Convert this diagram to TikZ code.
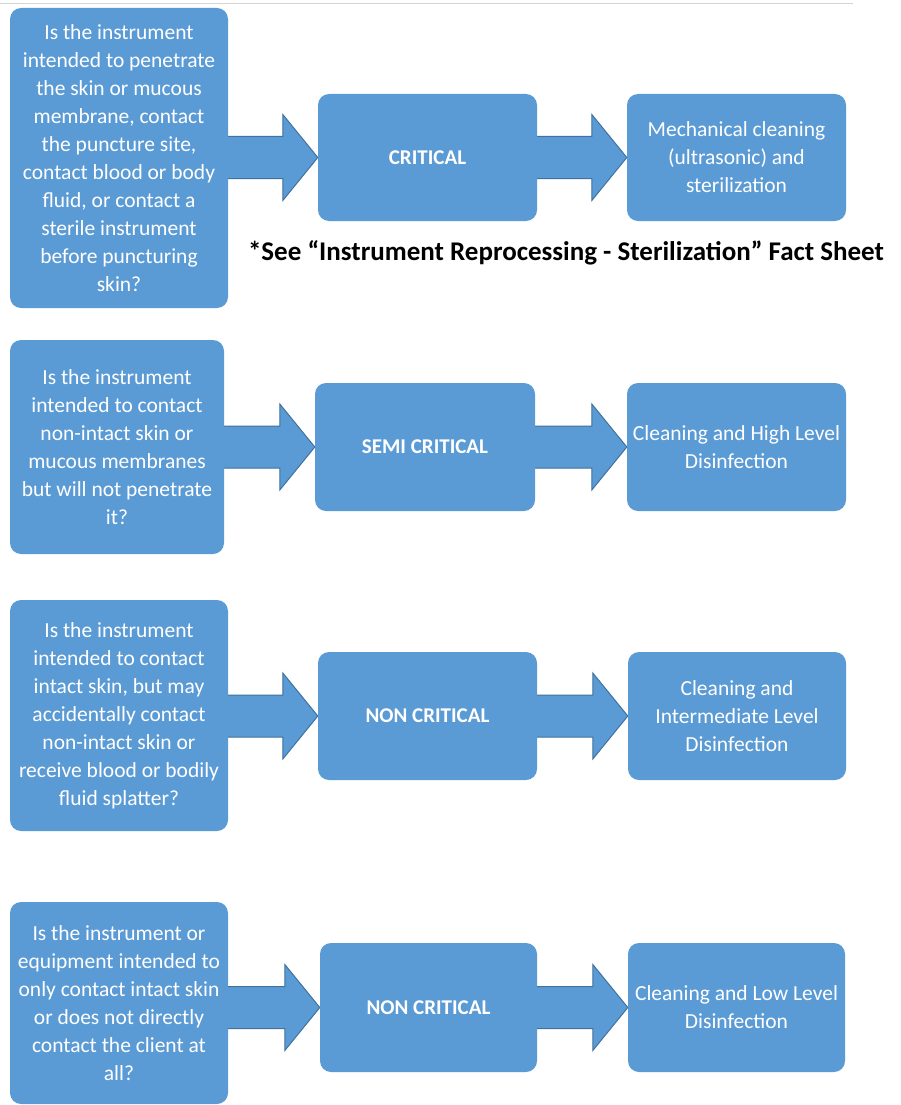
\documentclass[tikz,border=0pt]{standalone}
\usepackage{fontspec}
\setmainfont{Carlito}
\usetikzlibrary{calc}
\definecolor{boxblue}{HTML}{5B9BD5}
\definecolor{arrowedge}{HTML}{41719C}
\definecolor{rulegray}{HTML}{D4D4D4}
\pgfdeclarelayer{bg}
\pgfsetlayers{bg,main}
\tikzset{
  flowbox/.style={fill=boxblue, draw=none, rounded corners=11pt, inner sep=0pt,
    align=center, text=white, font=\fontsize{21.5}{28}\selectfont},
  levelbox/.style={flowbox, font=\fontsize{21}{28}\selectfont\bfseries},
  blockarrow/.style={fill=boxblue, draw=arrowedge, line width=1pt, line join=miter},
  notetext/.style={inner sep=0pt, text=black, font=\fontsize{27}{30}\selectfont\bfseries}
}
\newcommand\blockarr[2]{%
  \begin{pgfonlayer}{bg}
  \path[blockarrow] let \p1=(#1.east), \p2=(#2.west) in
    (\x1-1pt,\y2+21pt) -- (\x2-35pt,\y2+21pt) -- (\x2-35pt,\y2+43pt) -- (\x2,\y2)
    -- (\x2-35pt,\y2-43pt) -- (\x2-35pt,\y2-21pt) -- (\x1-1pt,\y2-21pt) -- cycle;
  \end{pgfonlayer}}
\begin{document}
\begin{tikzpicture}[x=1pt,y=-1pt]
\begin{pgfonlayer}{bg}
\fill[white] (0,0) rectangle (901,1105);
\end{pgfonlayer}
\useasboundingbox (0,0) rectangle (901,1105);
\draw[rulegray, line width=1.5pt] (0,3.5) -- (853,3.5);

% row 1
\node[flowbox, minimum width=218pt, minimum height=300pt] (q1) at (119,158)
  {Is the instrument\\intended to penetrate\\the skin or mucous\\membrane, contact\\the puncture site,\\contact blood or body\\fluid, or contact a\\sterile instrument\\before puncturing\\skin?};
\node[levelbox, minimum width=219pt, minimum height=127pt] (c1) at (427.5,157.5) {CRITICAL};
\node[flowbox, minimum width=219pt, minimum height=127pt] (r1) at (736.5,157.5)
  {Mechanical cleaning\\(ultrasonic) and\\sterilization};
\node[notetext] (note) at (566,253) {*See “Instrument Reprocessing - Sterilization” Fact Sheet};

% row 2
\node[flowbox, minimum width=214pt, minimum height=214pt] (q2) at (117,447)
  {Is the instrument\\intended to contact\\non-intact skin or\\mucous membranes\\but will not penetrate\\it?};
\node[levelbox, minimum width=220pt, minimum height=128pt] (c2) at (425,447) {SEMI CRITICAL};
\node[flowbox, minimum width=219pt, minimum height=128pt] (r2) at (736.5,447)
  {Cleaning and High Level\\Disinfection};

% row 3
\node[flowbox, minimum width=218pt, minimum height=231pt] (q3) at (119,715.5)
  {Is the instrument\\intended to contact\\intact skin, but may\\accidentally contact\\non-intact skin or\\receive blood or bodily\\fluid splatter?};
\node[levelbox, minimum width=219pt, minimum height=128pt] (c3) at (427.5,716) {NON CRITICAL};
\node[flowbox, minimum width=218pt, minimum height=128pt] (r3) at (737,716)
  {Cleaning and\\Intermediate Level\\Disinfection};

% row 4
\node[flowbox, minimum width=218pt, minimum height=202pt] (q4) at (119,1003)
  {Is the instrument or\\equipment intended to\\only contact intact skin\\or does not directly\\contact the client at\\all?};
\node[levelbox, minimum width=217pt, minimum height=129pt] (c4) at (428.5,1007.5) {NON CRITICAL};
\node[flowbox, minimum width=217pt, minimum height=129pt] (r4) at (736.5,1007.5)
  {Cleaning and Low Level\\Disinfection};

\blockarr{q1}{c1}\blockarr{c1}{r1}
\blockarr{q2}{c2}\blockarr{c2}{r2}
\blockarr{q3}{c3}\blockarr{c3}{r3}
\blockarr{q4}{c4}\blockarr{c4}{r4}
\end{tikzpicture}
\end{document}
